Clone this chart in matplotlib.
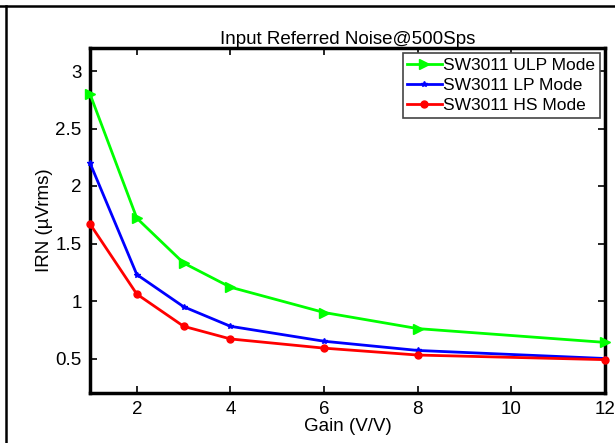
import matplotlib
matplotlib.use("Agg")
import matplotlib.pyplot as plt
from matplotlib.lines import Line2D

plt.rcParams['font.family'] = ['Liberation Sans', 'DejaVu Sans']

# data
gain = [1, 2, 3, 4, 6, 8, 12]
irn_ulp = [2.80, 1.72, 1.33, 1.12, 0.90, 0.76, 0.64]
irn_lp = [2.20, 1.23, 0.95, 0.78, 0.65, 0.57, 0.50]
irn_hs = [1.67, 1.06, 0.78, 0.67, 0.59, 0.53, 0.49]
labels = ['SW3011 ULP Mode', 'SW3011 LP Mode', 'SW3011 HS Mode']

fig = plt.figure(figsize=(6.15, 4.43), dpi=100)
ax = fig.add_axes([90 / 615, 1 - 393 / 443, 515 / 615, 345 / 443])

ax.plot(gain, irn_ulp, color='#00ff00', lw=2, marker='>', ms=7, label=labels[0], clip_on=False, zorder=3)
ax.plot(gain, irn_lp, color='#0000ff', lw=2, marker='*', ms=4, label=labels[1], clip_on=False, zorder=4)
ax.plot(gain, irn_hs, color='#ff0000', lw=2, marker='o', ms=5, label=labels[2], clip_on=False, zorder=5)

ax.set_xlim(1, 12)
ax.set_ylim(0.2, 3.2)
ax.set_xticks([2, 4, 6, 8, 10, 12])
ax.set_yticks([0.5, 1, 1.5, 2, 2.5, 3])
ax.set_yticklabels(['0.5', '1', '1.5', '2', '2.5', '3'])
ax.tick_params(direction='in', length=5, width=1.2, top=True, right=True, labelsize=13.5, pad=6)
for s in ax.spines.values():
    s.set_linewidth(2.5)

ax.set_title('Input Referred Noise@500Sps', fontsize=13.5, pad=3)
ax.set_xlabel('Gain (V/V)', fontsize=13.5, labelpad=0)
ax.set_ylabel('IRN (\u00b5Vrms)', fontsize=13.5, labelpad=2)

leg = ax.legend(loc='upper right', fontsize=12.5, fancybox=False, framealpha=1,
                edgecolor='#444444', handlelength=2.0, handletextpad=0.1,
                borderpad=0.25, labelspacing=0.3, borderaxespad=0.3)
leg.get_frame().set_linewidth(1.2)

# outer frame of the original figure (top and left edges)
fig.add_artist(Line2D([0, 1], [1 - 6 / 443, 1 - 6 / 443], color='black', lw=1.8, transform=fig.transFigure))
fig.add_artist(Line2D([6 / 615, 6 / 615], [0, 1 - 6 / 443], color='black', lw=1.8, transform=fig.transFigure))

fig.savefig('out.png', dpi=100)
